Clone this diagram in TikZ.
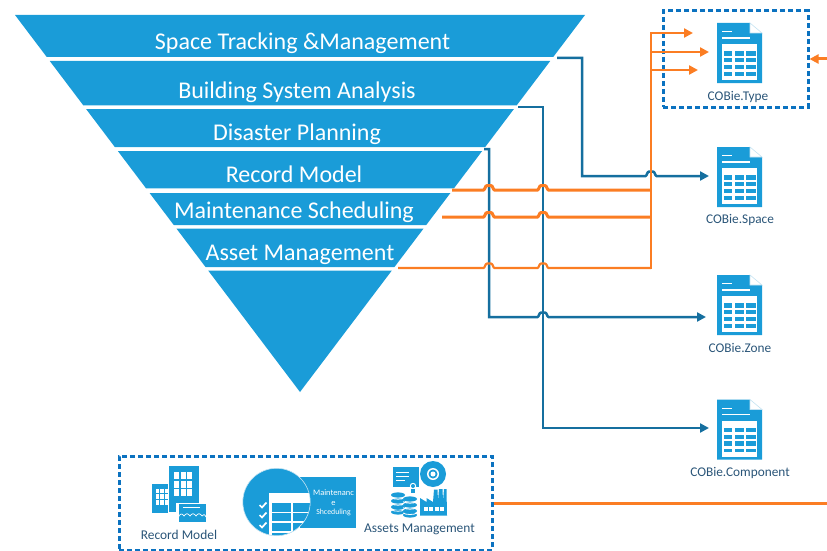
\documentclass[tikz,border=0pt]{standalone}
\usepackage{fontspec}
\setmainfont{Carlito}
\usetikzlibrary{arrows.meta}
\definecolor{bandblue}{HTML}{1A9CD8}
\definecolor{wireblue}{HTML}{156F9F}
\definecolor{wireorange}{HTML}{FB7D23}
\definecolor{dashblue}{HTML}{0B72C0}
\definecolor{labelblue}{HTML}{2A5578}
\definecolor{foldblue}{HTML}{C5E3F2}
\newcommand{\fs}[1]{\fontsize{#1}{#1}\selectfont}
\newcommand{\bandshape}[2]{\fill[bandblue] ({15+(#1-15)*0.756},#1) -- ({585-(#1-15)*0.756},#1) -- ({585-(#2-15)*0.756},#2) -- ({15+(#2-15)*0.756},#2) -- cycle;}
\newcommand{\hopx}[2]{-- ({#1-5.5},#2) .. controls ({#1-4},#2) and ({#1-4},{#2-4.5}) .. ({#1-1.8},{#2-4.5}) -- ({#1+1.8},{#2-4.5}) .. controls ({#1+4},{#2-4.5}) and ({#1+4},#2) .. ({#1+5.5},#2)}
\tikzset{
  x=1pt,y=-1pt,
  bandtext/.style={text=white,inner sep=0pt,font=\fs{24}},
  bluewire/.style={draw=wireblue,line width=2.5pt,line join=miter},
  orangewire/.style={draw=wireorange,line width=3pt,line join=miter},
  thinorange/.style={draw=wireorange,line width=2.2pt,line join=miter},
  blueend/.style={-{Triangle[length=9pt,width=9pt]}},
  dashedbox/.style={draw=dashblue,line width=3pt,dash pattern=on 5pt off 3pt,inner sep=0pt,rectangle},
  doclabel/.style={text=labelblue,inner sep=0pt,font=\fs{13.3}},
  iconlabel/.style={text=labelblue,inner sep=0pt,font=\fs{13.4}},
  wtxt/.style={text=white,inner sep=0pt},
  docicon/.pic={
    \fill[bandblue] (0,0) -- (33,0) -- (33,10) -- (45,10) -- (45,60) -- (0,60) -- cycle;
    \fill[white,draw=foldblue,line width=0.6pt] (33,0) -- (45,10) -- (33,10) -- cycle;
    \fill[white] (5,8) rectangle (15,9.2);
    \fill[white] (5,14.4) rectangle (33,15.8);
    \fill[white] (5,21) rectangle (40,57);
    \foreach \cx/\cw in {6.7/8.6,17.7/9.3,29.3/9.4}
      \foreach \ry/\rh in {28.3/4.4,35/4.4,41.7/4.4,49/3.8}
        \fill[bandblue] (\cx,\ry) rectangle ({\cx+\cw},{\ry+\rh});
  },
}
\begin{document}
\begin{tikzpicture}
\useasboundingbox (0,0) rectangle (827,551);
% funnel bands
\bandshape{15}{57}
\bandshape{61}{105.3}
\bandshape{109}{147}
\bandshape{151}{188.3}
\bandshape{193}{225}
\bandshape{228.5}{267}
\bandshape{270.5}{392}
\node[bandtext] (space) at (302.5,43.5) {Space Tracking \&Management};
\node[bandtext] (system) at (297,92) {Building System Analysis};
\node[bandtext] (disaster) at (297,134) {Disaster Planning};
\node[bandtext] (record) at (294,174) {Record Model};
\node[bandtext] (maint) at (294,212) {Maintenance Scheduling};
\node[bandtext] (asset) at (300,254.5) {Asset Management};
% dashed boxes
\node[dashedbox,minimum width=145pt,minimum height=96pt] (typebox) at (735.5,59) {};
\node[dashedbox,minimum width=373pt,minimum height=94pt] (srcbox) at (305.5,503) {};
% document icons
\pic at (717,23) {docicon};
\pic at (717,147) {docicon};
\pic at (717,275) {docicon};
\pic at (717,399.5) {docicon};
\node[doclabel] (ltype) at (738,97) {COBie.Type};
\node[doclabel] (lspace) at (740,219.5) {COBie.Space};
\node[doclabel] (lzone) at (740,348) {COBie.Zone};
\node[doclabel] (lcomp) at (740,472.5) {COBie.Component};
% connector anchors
\coordinate (s1) at (557,58);
\coordinate (s2) at (518,107);
\coordinate (s3) at (484,149);
\coordinate (o1) at (452,190);
\coordinate (o2) at (442,217);
\coordinate (o3) at (398,268);
\coordinate (busTop) at (651,33);
\coordinate (busO1) at (651,190);
\coordinate (busO2) at (651,217);
\coordinate (busO3) at (651,268);
\coordinate (tip1) at (693,33);
\coordinate (tip2) at (709,52);
\coordinate (tip3) at (698,70);
\coordinate (tap2) at (651,52);
\coordinate (tap3) at (651,70);
\coordinate (tipSpace) at (709,176);
\coordinate (tipZone) at (706,317);
\coordinate (tipComp) at (709,428);
\coordinate (rightA) at (827,59);
\coordinate (rightB) at (827,503);
% blue connectors
\draw[bluewire,blueend] (s1) -- (582,58) -- (582,176) \hopx{651}{176} -- (tipSpace);
\draw[bluewire,blueend] (s2) -- (543,107) -- (543,428) -- (tipComp);
\draw[bluewire,blueend] (s3) -- (489,149) -- (489,317) \hopx{543}{317} -- (tipZone);
% orange feeds
\draw[orangewire] (o1) \hopx{489}{190} \hopx{543}{190} -- (busO1);
\draw[orangewire] (o2) \hopx{489}{217} \hopx{543}{217} -- (busO2);
\draw[thinorange] (o3) \hopx{489}{268} \hopx{543}{268} -- (busO3);
\draw[thinorange,line width=2.6pt] ([yshift=-1pt]busO3) -- ([yshift=1pt]busTop);
\draw[thinorange,line width=2.6pt,blueend] (busTop) -- (tip1);
\draw[thinorange,line width=2.6pt,blueend] (tap2) -- (tip2);
\draw[thinorange,line width=2.6pt,blueend] (tap3) -- (tip3);
\draw[orangewire,blueend] (rightA) -- (typebox.east);
\draw[orangewire] (srcbox.east) -- (rightB);
% record model icon
\fill[bandblue] (169,465.5) rectangle (198.5,512);
\fill[bandblue] (152.3,484) rectangle (168.2,512.5);
\foreach \cx in {174,180.7,187.3} \foreach \ry in {472.3,481,489.3}
  \fill[white] (\cx,\ry) rectangle ({\cx+5},{\ry+6.5});
\foreach \cx in {156,160.3,164.5} \foreach \ry in {488.5,494,500}
  \fill[white] (\cx,\ry) rectangle ({\cx+3.2},{\ry+4.5});
\fill[white] (176,503) rectangle (208.5,522);
\fill[bandblue] (178.5,504) rectangle (206,521.5);
\fill[white] (183,506.5) rectangle (199.5,508);
\draw[white,line width=0.7pt] (178,518) .. controls (180,513) and (182,513) .. (184,516) .. controls (186,513) and (188,513) .. (190,516) .. controls (192,513) and (194,513) .. (196,516) .. controls (198,513) and (200,513) .. (202,516) .. controls (203,514) and (205,514) .. (206,517);
\node[iconlabel] (lrecord) at (179,535) {Record Model};
% maintenance icon
\fill[bandblue] (300,477) rectangle (355.7,528);
\begin{scope}
\clip (276.5,502) circle[radius=33.7];
\fill[bandblue] (276.5,502) circle[radius=33.7];
\fill[white] (269.3,493.3) rectangle (320,540);
\foreach \cx/\cw in {271.7/19,293.3/21}
  \foreach \ry/\rh in {502.7/9,513.3/7.7,523.3/7.7,533/6}
    \fill[bandblue] (\cx,\ry) rectangle ({\cx+\cw},{\ry+\rh});
\end{scope}
\draw[foldblue,line width=0.6pt] (276.5,502) circle[radius=33.7];
\foreach \ry in {505,515,525}
  \draw[white,line width=1.7pt] (259.5,\ry) -- (262,{\ry+2.5}) -- (266.5,{\ry-2.5});
\node[wtxt,font=\fs{8.4}] (mt1) at (333.5,493) {Maintenanc};
\node[wtxt,font=\fs{8.4}] (mt2) at (333.5,503) {e};
\node[wtxt,font=\fs{7.8}] (mt3) at (333.5,512.5) {Shceduling};
% assets icon
\fill[bandblue] (393,467) rectangle (419,487);
\fill[white] (396,472) rectangle (409,473);
\fill[white] (396,476) rectangle (409,477);
\fill[white] (396,480) rectangle (405,481);
\fill[white] (413,486) circle[radius=3.2];
\fill[bandblue] (413,486) circle[radius=2];
\fill[bandblue] (411.3,489) rectangle (414.7,493);
\fill[bandblue] (433,474) circle[radius=13];
\fill[white] (433,474) circle[radius=6];
\fill[bandblue] (433,474) circle[radius=4.5];
\fill[white] (433,474) circle[radius=2.5];
\foreach \ry in {495,501,507,512}
  \fill[bandblue] (398,\ry) ellipse[x radius=7,y radius=2.6];
\foreach \ry in {497.7,503.7,509.7}
  \draw[white,line width=0.8pt] (391,\ry) .. controls (394,{\ry+2}) and (402,{\ry+2}) .. (405,\ry);
\foreach \ry in {499,505,511,515}
  \fill[bandblue] (410,\ry) ellipse[x radius=7,y radius=2.6];
\foreach \ry in {501.7,507.7,513}
  \draw[white,line width=0.8pt] (403,\ry) .. controls (406,{\ry+2}) and (414,{\ry+2}) .. (417,\ry);
\fill[bandblue] (420,515.5) -- (420,498) -- (426.5,502) -- (426.5,498) -- (433,502) -- (434,489.5) -- (437.5,489.5) -- (438,501) -- (439,489) -- (442.5,489) -- (443,501) -- (444,489) -- (446.5,489) -- (447,515.5) -- cycle;
\foreach \cx in {423.5,429,434.5,440}
  \fill[white] (\cx,507) rectangle ({\cx+4.2},511);
\node[iconlabel] (lassets) at (419.5,529) {Assets Management};
\end{tikzpicture}
\end{document}
